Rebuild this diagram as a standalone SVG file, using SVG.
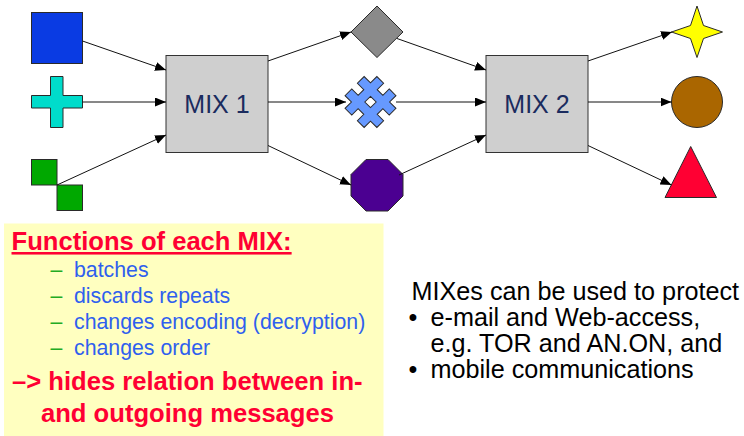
<svg xmlns="http://www.w3.org/2000/svg" width="744" height="436" viewBox="0 0 744 436">
  <style>
    .shape { stroke: #2a2a2a; stroke-width: 1; }
    .mix rect { fill: #cfcfcf; stroke: #333333; stroke-width: 1; }
    .mix text { font-family: "Liberation Sans", Arial, sans-serif; font-size: 25px; fill: #1a2b5e; text-anchor: middle; }
    .edge { stroke: #111111; stroke-width: 1; fill: none; marker-end: url(#arrow); }
    .title { font-family: "Liberation Sans", Arial, sans-serif; font-size: 25.6px; font-weight: bold; fill: #ff0033; }
    .item { font-family: "Liberation Sans", Arial, sans-serif; font-size: 21.3px; fill: #2f5fee; }
    .dash { fill: #22aa22; }
    .note { font-family: "Liberation Sans", Arial, sans-serif; font-size: 25.2px; fill: #000000; }
  </style>
  <defs>
    <marker id="arrow" markerUnits="userSpaceOnUse" markerWidth="12" markerHeight="10" viewBox="0 0 12 10" refX="11" refY="4.5" orient="auto">
      <path d="M0,0 L11,4.5 L0,9 Z" fill="#000000"/>
    </marker>
  </defs>

  <!-- input messages -->
  <g id="in-square">
    <rect class="shape" x="31.5" y="12.5" width="51" height="51" fill="#0a3be3"/>
  </g>
  <g id="in-cross">
    <path class="shape" fill="#00dccb" d="M50.5,76.5 H63 V95.5 H82.5 V108 H63 V127.5 H50.5 V108 H31.5 V95.5 H50.5 Z"/>
  </g>
  <g id="in-blocks">
    <rect class="shape" x="31.5" y="159.5" width="25.5" height="25.5" fill="#00a800"/>
    <rect class="shape" x="57" y="185" width="25.5" height="25.5" fill="#00a800"/>
  </g>

  <!-- first mix -->
  <g id="mix1" class="mix">
    <rect x="166" y="55.5" width="102" height="97"/>
    <text x="217" y="113">MIX 1</text>
  </g>

  <!-- intermediate messages -->
  <g id="mid-diamond">
    <polygon class="shape" fill="#8a8a8a" points="351,32 377,6 403,32 377,57.5"/>
  </g>
  <g id="mid-hash">
    <!-- a "#" sign turned by 45 degrees, with its square hole -->
    <path class="shape" fill="#6699ff" fill-rule="evenodd" transform="translate(370.5,102) rotate(45)"
      d="M4,-22.5 L13.5,-22.5 L13.5,-13.5 L22.5,-13.5 L22.5,-4 L13.5,-4 L13.5,4 L22.5,4 L22.5,13.5 L13.5,13.5 L13.5,22.5 L4,22.5 L4,13.5 L-4,13.5 L-4,22.5 L-13.5,22.5 L-13.5,13.5 L-22.5,13.5 L-22.5,4 L-13.5,4 L-13.5,-4 L-22.5,-4 L-22.5,-13.5 L-13.5,-13.5 L-13.5,-22.5 L-4,-22.5 L-4,-13.5 L4,-13.5 Z M-4,-4 L4,-4 L4,4 L-4,4 Z"/>
  </g>
  <g id="mid-octagon">
    <polygon class="shape" fill="#4b0091" points="366,159.5 388,159.5 403,174.5 403,196 388,211 366,211 351,196 351,174.5"/>
  </g>

  <!-- second mix -->
  <g id="mix2" class="mix">
    <rect x="486" y="55.5" width="102" height="97"/>
    <text x="537" y="113">MIX 2</text>
  </g>

  <!-- output messages -->
  <g id="out-star">
    <polygon class="shape" fill="#ffff00" points="697,6 703.5,25.5 722.5,32 703.5,38.5 697,57.5 690.5,38.5 671.5,32 690.5,25.5"/>
  </g>
  <g id="out-circle">
    <circle class="shape" cx="697" cy="102" r="25.5" fill="#aa6600"/>
  </g>
  <g id="out-triangle">
    <polygon class="shape" fill="#ff0033" points="690.7,146.5 716.5,197.5 665,197.5"/>
  </g>

  <!-- connectors -->
  <g id="connectors">
    <line class="edge" x1="82.5" y1="41" x2="166" y2="70"/>
    <line class="edge" x1="82.5" y1="102" x2="166" y2="102"/>
    <line class="edge" x1="57" y1="185" x2="166" y2="135"/>
    <line class="edge" x1="268" y1="61" x2="351" y2="32"/>
    <line class="edge" x1="268" y1="102" x2="346" y2="102"/>
    <line class="edge" x1="268" y1="145.5" x2="351" y2="185"/>
    <line class="edge" x1="397" y1="38.5" x2="486" y2="70"/>
    <line class="edge" x1="396" y1="102" x2="486" y2="102"/>
    <line class="edge" x1="399" y1="175" x2="486" y2="135"/>
    <line class="edge" x1="588" y1="61" x2="672" y2="32"/>
    <line class="edge" x1="588" y1="102" x2="671.5" y2="102"/>
    <line class="edge" x1="588" y1="145.5" x2="671.5" y2="185"/>
  </g>

  <!-- functions panel -->
  <g id="functions">
    <rect x="4" y="223.5" width="379.5" height="213" fill="#ffffc0"/>
    <text class="title" x="11.5" y="250" text-decoration="underline">Functions of each MIX:</text>
    <text class="item" x="50.5" y="277"><tspan class="dash">–</tspan><tspan x="74">batches</tspan></text>
    <text class="item" x="50.5" y="303"><tspan class="dash">–</tspan><tspan x="74">discards repeats</tspan></text>
    <text class="item" x="50.5" y="329"><tspan class="dash">–</tspan><tspan x="74">changes encoding (decryption)</tspan></text>
    <text class="item" x="50.5" y="355"><tspan class="dash">–</tspan><tspan x="74">changes order</tspan></text>
    <text class="title" x="12" y="390">–&gt; hides relation between in-</text>
    <text class="title" x="41" y="421.5">and outgoing messages</text>
  </g>

  <!-- usage note -->
  <g id="usage">
    <text class="note" x="411.5" y="300">MIXes can be used to protect</text>
    <text class="note" x="408.5" y="326">•</text>
    <text class="note" x="430.5" y="326">e-mail and Web-access,</text>
    <text class="note" x="430.5" y="352">e.g. TOR and AN.ON, and</text>
    <text class="note" x="408.5" y="378">•</text>
    <text class="note" x="430.5" y="378">mobile communications</text>
  </g>
</svg>
